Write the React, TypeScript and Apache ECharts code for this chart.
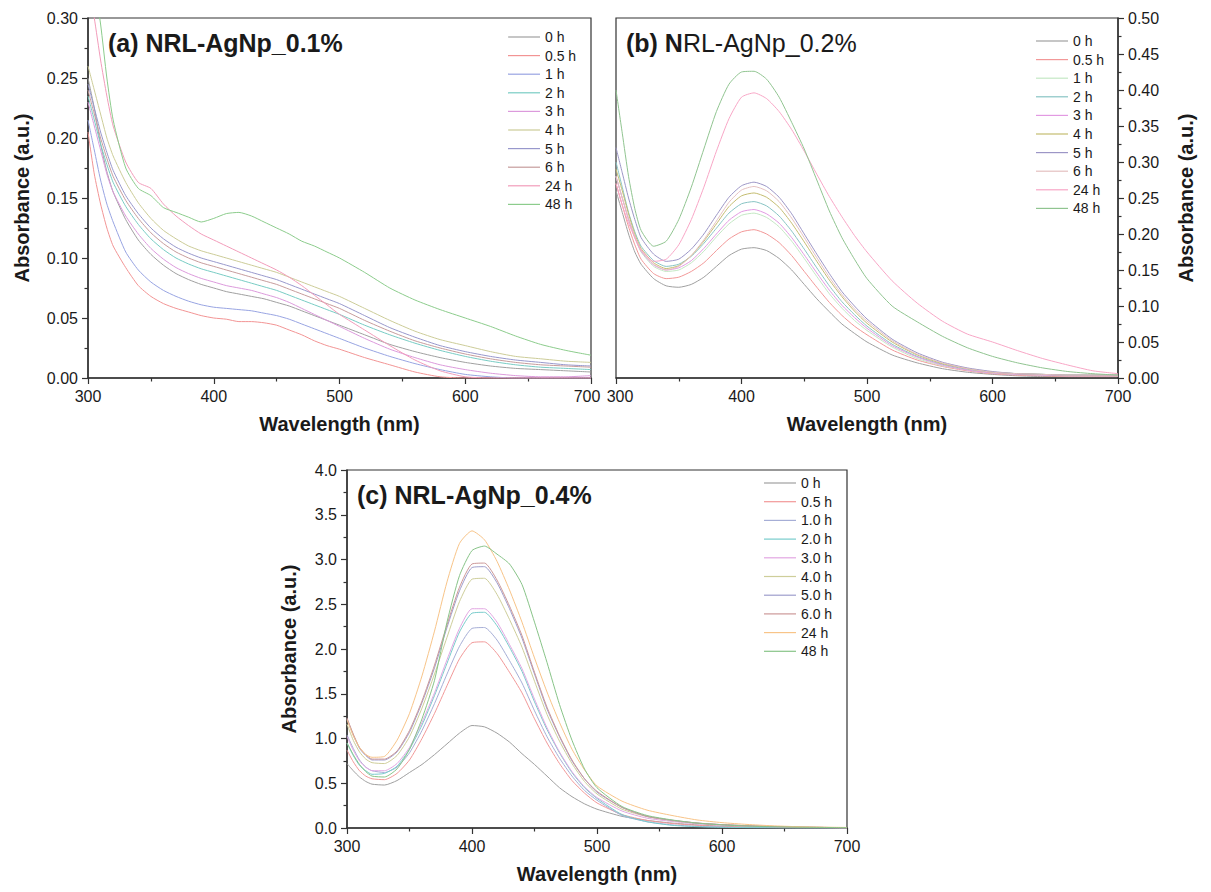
import React, { useEffect, useRef } from "react";
import * as echarts from "echarts";

// Shared wavelength grid (nm)
const wavelengths = [300, 305, 310, 315, 320, 330, 340, 350, 360, 370, 380, 390, 400, 410, 420, 430, 440, 450, 460, 470, 480, 490, 500, 520, 540, 560, 580, 600, 620, 640, 660, 680, 700];

const xTicks = [300, 400, 500, 600, 700];

// ---------- Panel (a) NRL-AgNp_0.1% ----------
const labelsA = ["0 h", "0.5 h", "1 h", "2 h", "3 h", "4 h", "5 h", "6 h", "24 h", "48 h"];
const colorsA = ["#a0a0a0", "#f29494", "#98a4e2", "#78ccc4", "#dc9adc", "#cccc98", "#9898cc", "#c69c9c", "#f29cba", "#8ccc8c"];
const a0h = [0.25, 0.225, 0.195, 0.172, 0.155, 0.132, 0.115, 0.103, 0.094, 0.087, 0.082, 0.078, 0.075, 0.072, 0.07, 0.068, 0.066, 0.063, 0.06, 0.056, 0.052, 0.048, 0.044, 0.036, 0.028, 0.022, 0.017, 0.013, 0.01, 0.008, 0.007, 0.006, 0.005];
const a05h = [0.205, 0.17, 0.145, 0.125, 0.11, 0.092, 0.077, 0.068, 0.062, 0.058, 0.055, 0.052, 0.05, 0.049, 0.047, 0.047, 0.046, 0.044, 0.04, 0.036, 0.031, 0.027, 0.024, 0.017, 0.011, 0.005, 0.001, 0, 0, 0, 0, 0, 0];
const a1h = [0.215, 0.19, 0.165, 0.145, 0.13, 0.105, 0.09, 0.08, 0.073, 0.068, 0.064, 0.061, 0.059, 0.058, 0.057, 0.056, 0.054, 0.052, 0.049, 0.045, 0.041, 0.037, 0.033, 0.025, 0.018, 0.012, 0.007, 0.003, 0.001, 0, 0, 0, 0];
const a2h = [0.235, 0.215, 0.195, 0.178, 0.163, 0.143, 0.128, 0.116, 0.107, 0.1, 0.095, 0.091, 0.088, 0.085, 0.082, 0.079, 0.076, 0.073, 0.069, 0.065, 0.061, 0.057, 0.053, 0.044, 0.036, 0.029, 0.023, 0.018, 0.014, 0.011, 0.009, 0.008, 0.007];
const a3h = [0.23, 0.21, 0.19, 0.17, 0.155, 0.135, 0.12, 0.108, 0.099, 0.092, 0.087, 0.083, 0.08, 0.077, 0.075, 0.073, 0.07, 0.067, 0.063, 0.058, 0.053, 0.048, 0.043, 0.033, 0.024, 0.017, 0.011, 0.007, 0.004, 0.002, 0.001, 0.001, 0.002];
const a4h = [0.26, 0.24, 0.22, 0.2, 0.185, 0.163, 0.146, 0.133, 0.123, 0.116, 0.11, 0.106, 0.103, 0.1, 0.097, 0.094, 0.091, 0.088, 0.084, 0.08, 0.076, 0.072, 0.068, 0.058, 0.048, 0.039, 0.032, 0.027, 0.022, 0.018, 0.016, 0.014, 0.013];
const a5h = [0.245, 0.225, 0.205, 0.188, 0.173, 0.152, 0.137, 0.125, 0.116, 0.109, 0.104, 0.1, 0.097, 0.094, 0.091, 0.088, 0.085, 0.082, 0.078, 0.074, 0.07, 0.066, 0.062, 0.052, 0.042, 0.034, 0.027, 0.022, 0.018, 0.015, 0.013, 0.011, 0.01];
const a6h = [0.24, 0.22, 0.2, 0.183, 0.168, 0.148, 0.133, 0.121, 0.112, 0.105, 0.1, 0.096, 0.093, 0.09, 0.087, 0.084, 0.081, 0.078, 0.074, 0.07, 0.066, 0.062, 0.058, 0.048, 0.039, 0.031, 0.025, 0.02, 0.016, 0.013, 0.011, 0.01, 0.009];
const a24h = [0.33, 0.3, 0.265, 0.235, 0.21, 0.18, 0.163, 0.158, 0.145, 0.135, 0.127, 0.12, 0.115, 0.11, 0.105, 0.1, 0.095, 0.09, 0.084, 0.077, 0.069, 0.061, 0.053, 0.04, 0.027, 0.015, 0.006, 0.001, 0, 0, 0, 0, 0];
const a48h = [0.36, 0.33, 0.295, 0.25, 0.215, 0.175, 0.158, 0.152, 0.142, 0.138, 0.134, 0.13, 0.133, 0.137, 0.138, 0.135, 0.13, 0.125, 0.12, 0.114, 0.11, 0.105, 0.1, 0.088, 0.075, 0.065, 0.057, 0.05, 0.043, 0.035, 0.028, 0.023, 0.019];
const panelA = [a0h, a05h, a1h, a2h, a3h, a4h, a5h, a6h, a24h, a48h];

// ---------- Panel (b) NRL-AgNp_0.2% ----------
const labelsB = ["0 h", "0.5 h", "1 h", "2 h", "3 h", "4 h", "5 h", "6 h", "24 h", "48 h"];
const colorsB = ["#a0a0a0", "#f29898", "#c4e8c4", "#88c4c4", "#e29ae2", "#c4bc70", "#9c96c6", "#e4c0c0", "#f8a6c6", "#90c490"];
const b0h = [0.26, 0.23, 0.2, 0.175, 0.158, 0.138, 0.128, 0.126, 0.13, 0.14, 0.155, 0.17, 0.179, 0.181, 0.177, 0.166, 0.15, 0.13, 0.11, 0.092, 0.075, 0.062, 0.05, 0.032, 0.021, 0.013, 0.008, 0.005, 0.003, 0.002, 0.002, 0.002, 0.002];
const b05h = [0.27, 0.24, 0.21, 0.185, 0.165, 0.145, 0.138, 0.14, 0.148, 0.16, 0.177, 0.193, 0.203, 0.206, 0.2, 0.188, 0.17, 0.148, 0.126, 0.105, 0.087, 0.072, 0.06, 0.039, 0.025, 0.016, 0.01, 0.006, 0.004, 0.003, 0.002, 0.002, 0.002];
const b1h = [0.28, 0.25, 0.22, 0.195, 0.175, 0.155, 0.148, 0.15, 0.16, 0.176, 0.196, 0.214, 0.226, 0.229, 0.223, 0.21, 0.19, 0.166, 0.141, 0.117, 0.097, 0.08, 0.066, 0.043, 0.027, 0.017, 0.011, 0.007, 0.005, 0.004, 0.003, 0.003, 0.003];
const b2h = [0.3, 0.265, 0.23, 0.203, 0.183, 0.163, 0.155, 0.158, 0.169, 0.187, 0.208, 0.229, 0.242, 0.245, 0.239, 0.225, 0.204, 0.179, 0.153, 0.128, 0.106, 0.088, 0.072, 0.047, 0.03, 0.019, 0.012, 0.008, 0.006, 0.005, 0.004, 0.004, 0.004];
const b3h = [0.28, 0.25, 0.22, 0.195, 0.176, 0.157, 0.15, 0.153, 0.163, 0.18, 0.2, 0.219, 0.231, 0.234, 0.228, 0.215, 0.195, 0.171, 0.146, 0.122, 0.101, 0.084, 0.069, 0.045, 0.029, 0.018, 0.011, 0.007, 0.005, 0.004, 0.003, 0.003, 0.003];
const b4h = [0.29, 0.26, 0.228, 0.2, 0.18, 0.16, 0.152, 0.156, 0.17, 0.19, 0.214, 0.238, 0.253, 0.257, 0.251, 0.237, 0.215, 0.189, 0.162, 0.136, 0.113, 0.093, 0.076, 0.05, 0.032, 0.02, 0.013, 0.008, 0.006, 0.005, 0.004, 0.004, 0.004];
const b5h = [0.32, 0.285, 0.25, 0.22, 0.195, 0.172, 0.162, 0.165, 0.179, 0.2, 0.226, 0.251, 0.267, 0.272, 0.266, 0.251, 0.228, 0.2, 0.172, 0.145, 0.12, 0.1, 0.082, 0.054, 0.035, 0.022, 0.014, 0.009, 0.006, 0.005, 0.004, 0.004, 0.004];
const b6h = [0.28, 0.25, 0.222, 0.197, 0.177, 0.158, 0.15, 0.155, 0.17, 0.192, 0.218, 0.244, 0.261, 0.266, 0.26, 0.245, 0.222, 0.195, 0.167, 0.14, 0.116, 0.096, 0.079, 0.052, 0.033, 0.021, 0.013, 0.008, 0.006, 0.005, 0.004, 0.004, 0.004];
const b24h = [0.27, 0.24, 0.215, 0.195, 0.178, 0.162, 0.165, 0.185, 0.22, 0.265, 0.315, 0.36, 0.39, 0.396, 0.388, 0.37, 0.345, 0.315, 0.283, 0.252, 0.224, 0.198, 0.175, 0.135, 0.104, 0.079, 0.061, 0.05, 0.038, 0.027, 0.018, 0.01, 0.006];
const b48h = [0.4, 0.34, 0.28, 0.235, 0.205, 0.183, 0.19, 0.22, 0.265, 0.318, 0.37, 0.408, 0.425, 0.426, 0.415, 0.39, 0.355, 0.318, 0.275, 0.232, 0.195, 0.165, 0.138, 0.1, 0.078, 0.058, 0.042, 0.03, 0.021, 0.014, 0.009, 0.006, 0.004];
const panelB = [b0h, b05h, b1h, b2h, b3h, b4h, b5h, b6h, b24h, b48h];

// ---------- Panel (c) NRL-AgNp_0.4% ----------
const labelsC = ["0 h", "0.5 h", "1.0 h", "2.0 h", "3.0 h", "4.0 h", "5.0 h", "6.0 h", "24 h", "48 h"];
const colorsC = ["#a0a0a0", "#f29898", "#a6aed6", "#78cccc", "#e2a6e2", "#cece9a", "#9e9ecc", "#cc9898", "#f8c488", "#88c488"];
const c0h = [0.72, 0.64, 0.57, 0.52, 0.49, 0.48, 0.53, 0.62, 0.71, 0.82, 0.94, 1.06, 1.145, 1.13, 1.06, 0.96, 0.83, 0.71, 0.58, 0.45, 0.35, 0.27, 0.21, 0.13, 0.085, 0.055, 0.035, 0.02, 0.012, 0.008, 0.005, 0.003, 0.002];
const c05h = [0.87, 0.74, 0.64, 0.58, 0.55, 0.54, 0.61, 0.76, 1.0, 1.28, 1.59, 1.89, 2.07, 2.08, 1.95, 1.74, 1.51, 1.22, 0.95, 0.72, 0.53, 0.39, 0.28, 0.15, 0.085, 0.05, 0.03, 0.018, 0.01, 0.006, 0.003, 0.002, 0.001];
const c1h = [1.04, 0.89, 0.76, 0.68, 0.64, 0.62, 0.68, 0.84, 1.09, 1.39, 1.72, 2.03, 2.23, 2.24, 2.1, 1.87, 1.62, 1.31, 1.02, 0.78, 0.58, 0.42, 0.31, 0.14, 0.07, 0.035, 0.018, 0.01, 0.005, 0.003, 0.001, 0, 0];
const c2h = [0.95, 0.81, 0.7, 0.64, 0.6, 0.61, 0.69, 0.88, 1.15, 1.48, 1.84, 2.19, 2.4, 2.41, 2.26, 2.02, 1.75, 1.41, 1.1, 0.84, 0.62, 0.45, 0.33, 0.15, 0.07, 0.03, 0.015, 0.008, 0.004, 0.002, 0, 0, 0];
const c3h = [1.02, 0.87, 0.75, 0.68, 0.64, 0.64, 0.72, 0.9, 1.18, 1.51, 1.88, 2.23, 2.45, 2.45, 2.3, 2.05, 1.78, 1.44, 1.12, 0.85, 0.63, 0.46, 0.34, 0.19, 0.11, 0.073, 0.046, 0.032, 0.022, 0.015, 0.009, 0.005, 0.002];
const c4h = [1.16, 0.98, 0.85, 0.77, 0.73, 0.72, 0.81, 1.02, 1.34, 1.72, 2.13, 2.53, 2.78, 2.79, 2.61, 2.33, 2.02, 1.64, 1.27, 0.97, 0.72, 0.52, 0.38, 0.21, 0.127, 0.082, 0.052, 0.037, 0.025, 0.017, 0.01, 0.006, 0.002];
const c5h = [1.22, 1.04, 0.89, 0.81, 0.76, 0.76, 0.85, 1.07, 1.4, 1.79, 2.24, 2.65, 2.91, 2.92, 2.74, 2.45, 2.12, 1.72, 1.33, 1.02, 0.75, 0.55, 0.4, 0.23, 0.13, 0.085, 0.055, 0.037, 0.025, 0.017, 0.011, 0.007, 0.002];
const c6h = [1.23, 1.05, 0.9, 0.82, 0.77, 0.77, 0.86, 1.09, 1.42, 1.82, 2.27, 2.69, 2.95, 2.96, 2.77, 2.48, 2.15, 1.74, 1.35, 1.03, 0.76, 0.55, 0.41, 0.23, 0.13, 0.087, 0.056, 0.038, 0.026, 0.018, 0.011, 0.007, 0.002];
const c24h = [1.21, 1.03, 0.9, 0.82, 0.79, 0.8, 0.98, 1.28, 1.7, 2.2, 2.75, 3.18, 3.32, 3.22, 2.98, 2.66, 2.3, 1.9, 1.52, 1.18, 0.88, 0.65, 0.47, 0.3, 0.2, 0.14, 0.09, 0.06, 0.04, 0.025, 0.015, 0.01, 0.006];
const c48h = [0.95, 0.82, 0.71, 0.63, 0.58, 0.57, 0.66, 0.88, 1.22, 1.65, 2.3, 2.82, 3.1, 3.15, 3.06, 2.95, 2.72, 2.3, 1.85, 1.38, 0.98, 0.66, 0.45, 0.24, 0.14, 0.09, 0.055, 0.035, 0.022, 0.014, 0.009, 0.006, 0.004];
const panelC = [c0h, c05h, c1h, c2h, c3h, c4h, c5h, c6h, c24h, c48h];

const FONT = '"Liberation Sans", Arial, Helvetica, sans-serif';
const AXIS_COLOR = "#333";

function xAxisFor(gridIndex: number, padMin: boolean, padMax: boolean) {
  return {
    type: "value",
    gridIndex,
    min: xTicks[0],
    max: xTicks[xTicks.length - 1],
    interval: 100,
    name: "Wavelength (nm)",
    nameLocation: "middle",
    nameGap: 36,
    nameTextStyle: { fontFamily: FONT, fontWeight: "bold", fontSize: 20, color: "#1a1a1a" },
    axisLine: { show: true, onZero: false, lineStyle: { color: AXIS_COLOR, width: 1.5 } },
    axisTick: { show: true, inside: false, length: 6, lineStyle: { color: AXIS_COLOR, width: 1.2 } },
    minorTick: { show: true, splitNumber: 2, length: 3.5, lineStyle: { color: AXIS_COLOR, width: 1.2 } },
    axisLabel: {
      fontFamily: FONT,
      fontSize: 16,
      color: "#1a1a1a",
      margin: 10,
      formatter: (v: number) => {
        if (padMax && v === xTicks[xTicks.length - 1]) return "{r|" + v + "}";
        if (padMin && v === xTicks[0]) return "{l|" + v + "}";
        return String(v);
      },
      rich: {
        r: { fontFamily: FONT, fontSize: 16, color: "#1a1a1a", padding: [0, 8, 0, 0] },
        l: { fontFamily: FONT, fontSize: 16, color: "#1a1a1a", padding: [0, 0, 0, 8] },
      },
    },
    splitLine: { show: false },
    minorSplitLine: { show: false },
  };
}

function yAxisFor(gridIndex: number, max: number, interval: number, digits: number, position: string, nameGap: number) {
  return {
    type: "value",
    gridIndex,
    position,
    min: 0,
    max,
    interval,
    name: "Absorbance (a.u.)",
    nameLocation: "middle",
    nameRotate: 90,
    nameGap,
    nameTextStyle: { fontFamily: FONT, fontWeight: "bold", fontSize: 20, color: "#1a1a1a" },
    axisLine: { show: true, onZero: false, lineStyle: { color: AXIS_COLOR, width: 1.5 } },
    axisTick: { show: true, inside: false, length: 6, lineStyle: { color: AXIS_COLOR, width: 1.2 } },
    minorTick: { show: true, splitNumber: 2, length: 3.5, lineStyle: { color: AXIS_COLOR, width: 1.2 } },
    axisLabel: { fontFamily: FONT, fontSize: 16, color: "#1a1a1a", margin: 10, formatter: (v: number) => v.toFixed(digits) },
    splitLine: { show: false },
    minorSplitLine: { show: false },
  };
}

function seriesFor(prefix: string, idx: number, labels: string[], colors: string[], values: number[][]) {
  return labels.map((lab, i) => ({
    type: "line",
    name: prefix + "|" + lab,
    xAxisIndex: idx,
    yAxisIndex: idx,
    symbol: "none",
    showSymbol: false,
    clip: true,
    smooth: 0.2,
    lineStyle: { width: 1, color: colors[i] },
    itemStyle: { color: colors[i] },
    data: wavelengths.map((w, k) => [w, values[i][k]]),
  }));
}

function legendFor(prefix: string, labels: string[], left: number, top: number, gap: number) {
  return {
    orient: "vertical",
    left,
    top,
    padding: 0,
    icon: "rect",
    itemWidth: 32,
    itemHeight: 1.2,
    itemGap: gap,
    selectedMode: false,
    data: labels.map((l) => prefix + "|" + l),
    formatter: (n: string) => n.split("|")[1],
    textStyle: { fontFamily: FONT, fontSize: 14, color: "#1a1a1a", lineHeight: 14 },
  };
}

export default function App() {
  const ref = useRef<HTMLDivElement>(null);
  useEffect(() => {
    document.body.style.margin = "0";
    if (!ref.current) return;
    const chart = echarts.init(ref.current, undefined, { renderer: "svg" });
    const gridStyle = { show: true, borderColor: AXIS_COLOR, borderWidth: 1.2, backgroundColor: "transparent" };
    chart.setOption({
      animation: false,
      backgroundColor: "#ffffff",
      grid: [
        { left: 88, top: 18, width: 503, height: 360, ...gridStyle },
        { left: 616, top: 18, width: 502, height: 360, ...gridStyle },
        { left: 347, top: 470, width: 500, height: 358, ...gridStyle },
      ],
      xAxis: [xAxisFor(0, false, true), xAxisFor(1, true, false), xAxisFor(2, false, false)],
      yAxis: [
        yAxisFor(0, 0.3, 0.05, 2, "left", 56),
        yAxisFor(1, 0.5, 0.05, 2, "right", 58),
        yAxisFor(2, 4, 0.5, 1, "left", 48),
      ],
      legend: [
        legendFor("a", labelsA, 508, 30, 4.6),
        legendFor("b", labelsB, 1036, 34, 4.6),
        legendFor("c", labelsC, 764, 476, 4.7),
      ],
      graphic: [
        {
          type: "text",
          left: 108,
          top: 30,
          style: { text: "(a) NRL-AgNp_0.1%", font: 'bold 25px "Liberation Sans", Arial, sans-serif', fill: "#1a1a1a" },
        },
        {
          type: "text",
          left: 626,
          top: 30,
          style: {
            text: "{b|(b) N}{n|RL-AgNp_0.2%}",
            rich: {
              b: { fontFamily: FONT, fontWeight: "bold", fontSize: 25, fill: "#1a1a1a" },
              n: { fontFamily: FONT, fontWeight: "normal", fontSize: 25, fill: "#1a1a1a" },
            },
          },
        },
        {
          type: "text",
          left: 357,
          top: 482,
          style: { text: "(c) NRL-AgNp_0.4%", font: 'bold 25px "Liberation Sans", Arial, sans-serif', fill: "#1a1a1a" },
        },
      ],
      series: [
        ...seriesFor("a", 0, labelsA, colorsA, panelA),
        ...seriesFor("b", 1, labelsB, colorsB, panelB),
        ...seriesFor("c", 2, labelsC, colorsC, panelC),
      ],
    });
    return () => chart.dispose();
  }, []);
  return <div ref={ref} style={{ width: 1211, height: 892 }} />;
}
